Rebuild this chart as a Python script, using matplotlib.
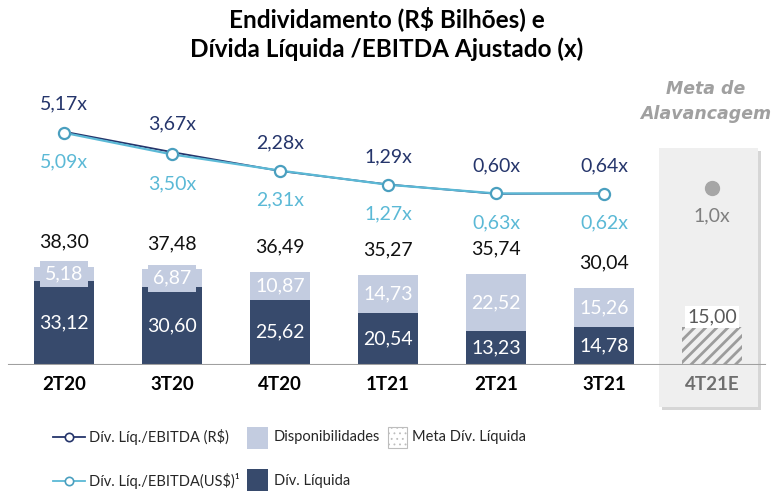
import matplotlib
matplotlib.use("Agg")
import matplotlib.pyplot as plt
from matplotlib.patches import Rectangle
from matplotlib.lines import Line2D

plt.rcParams['font.family'] = ['Lato', 'DejaVu Sans']
plt.rcParams['hatch.linewidth'] = 2.0

# ---- data ----
categories = ["2T20", "3T20", "4T20", "1T21", "2T21", "3T21", "4T21E"]
div_liquida = [33.12, 30.60, 25.62, 20.54, 13.23, 14.78]
disponibilidades = [5.18, 6.87, 10.87, 14.73, 22.52, 15.26]
endividamento = [38.30, 37.48, 36.49, 35.27, 35.74, 30.04]
ratio_brl = [5.17, 3.67, 2.28, 1.29, 0.60, 0.64]
ratio_usd = [5.09, 3.50, 2.31, 1.27, 0.63, 0.62]
meta_div_liquida = 15.00
meta_alavancagem = 1.0

W, H = 774, 494
C_DARK = "#374a6c"
C_LIGHT = "#c3cce0"
C_NAVY = "#25356b"
C_SKY = "#5bb9d6"
C_GRAY = "#a6a6a6"
VFS = 14

fig = plt.figure(figsize=(W / 100, H / 100), dpi=100)

def fx(px):
    return px / W

def fy(py):
    return 1 - py / H

# grey panel for the forecast column (shadow + panel)
fig.patches.append(Rectangle((fx(662), fy(410)), fx(99), 259 / H, transform=fig.transFigure,
                             facecolor="#d6d6d6", edgecolor="none", zorder=-3))
fig.patches.append(Rectangle((fx(659), fy(407)), fx(99), 259 / H, transform=fig.transFigure,
                             facecolor="#efefef", edgecolor="none", zorder=-2))

base_px = 365
ax = fig.add_axes([0, fy(base_px), 1, base_px / H])
ax.patch.set_visible(False)
scale = 2.55  # px per unit
ax.set_ylim(0, base_px / scale)
ax.set_xlim(-64 / 108, (W - 64) / 108)
for s in ax.spines.values():
    s.set_visible(False)
ax.set_yticks([])

x = list(range(len(div_liquida)))
bw = 0.555
ax.bar(x, div_liquida, width=bw, color=C_DARK, zorder=2)
ax.bar(x, disponibilidades, bottom=div_liquida, width=bw, color=C_LIGHT, zorder=2)

for i in x:
    d = div_liquida[i]
    l = disponibilidades[i]
    ax.text(i, d / 2, f"{d:.2f}".replace(".", ","), ha="center", va="center",
            color="white", fontsize=VFS, zorder=4)
    ax.text(i, d + l / 2, f"{l:.2f}".replace(".", ","), ha="center", va="center",
            color="white", fontsize=VFS, zorder=4,
            bbox=dict(boxstyle="square,pad=0.25", facecolor=C_LIGHT, edgecolor="none"))
    ax.annotate(f"{endividamento[i]:.2f}".replace(".", ","), (i, d + l),
                xytext=(0, 12), textcoords="offset points", ha="center", va="bottom",
                color="#111111", fontsize=VFS, zorder=4)

# meta bar (hatched)
ax.bar([6], [meta_div_liquida], width=0.55, facecolor="none", edgecolor="#9c9c9c",
       hatch="///", linewidth=0, zorder=2)
ax.annotate(f"{meta_div_liquida:.2f}".replace(".", ","), (6, meta_div_liquida),
            xytext=(0, 1), textcoords="offset points", ha="center", va="bottom",
            color="#595959", fontsize=VFS, zorder=4,
            bbox=dict(boxstyle="square,pad=0.12", facecolor="white", edgecolor="none"))

# baseline
ax.axhline(0, xmin=fx(9), xmax=fx(765), color="#a0a0a0", lw=1.5, zorder=3)

ax.set_xticks(range(len(categories)))
ax.set_xticklabels(categories, fontsize=13.5, fontweight="bold")
ax.tick_params(axis="x", length=0, pad=8)
ax.get_xticklabels()[-1].set_color("#6e6e6e")

# ratio axis
ax2 = ax.twinx()
ax2.patch.set_visible(False)
rs = 13.6
zero_above = 163
ax2.set_ylim(-zero_above / rs, (base_px - zero_above) / rs)
ax2.set_yticks([])
for s in ax2.spines.values():
    s.set_visible(False)

ax2.plot(x, ratio_usd, color=C_SKY, lw=1.6, zorder=5)
ax2.plot(x, ratio_brl, color=C_NAVY, lw=1.3, zorder=4)
ax2.plot(x, ratio_usd, color=C_SKY, lw=0, marker="o", ms=8, mfc="white",
         mec="#4a9fbf", mew=1.6, zorder=6)
for i in x:
    ax2.annotate(f"{ratio_brl[i]:.2f}x".replace(".", ","), (i, ratio_brl[i]),
                 xytext=(0, 20), textcoords="offset points", ha="center", va="center",
                 color=C_NAVY, fontsize=VFS)
    ax2.annotate(f"{ratio_usd[i]:.2f}x".replace(".", ","), (i, ratio_usd[i]),
                 xytext=(0, -21), textcoords="offset points", ha="center", va="center",
                 color=C_SKY, fontsize=VFS)

ax2.plot([6], [meta_alavancagem], marker="o", ms=10, color=C_GRAY, lw=0)
ax2.annotate(f"{meta_alavancagem:.1f}x".replace(".", ","), (6, meta_alavancagem),
             xytext=(0, -20), textcoords="offset points", ha="center", va="center",
             color="#7f7f7f", fontsize=VFS)

# titles
fig.text(0.5, fy(19), "Endividamento (R$ Bilhões) e", ha="center", va="center",
         fontsize=17.5, fontweight="bold", color="black")
fig.text(0.5, fy(49), "Dívida Líquida /EBITDA Ajustado (x)", ha="center", va="center",
         fontsize=17.5, fontweight="bold", color="black")
fig.text(fx(706), fy(89), "Meta de", ha="center", va="center", fontsize=12.5,
         fontweight="bold", style="italic", color="#a0a0a0", family=["DejaVu Sans"])
fig.text(fx(706), fy(114), "Alavancagem", ha="center", va="center", fontsize=12.5,
         fontweight="bold", style="italic", color="#a0a0a0", family=["DejaVu Sans"])

# legend (manual)
leg_fs = 10.5
rows = [437, 481]
for (y, col, mec, txt) in [(rows[0], C_NAVY, C_NAVY, "Dív. Líq./EBITDA (R$)"),
                           (rows[1], C_SKY, "#4a9fbf", "Dív. Líq./EBITDA(US$)¹")]:
    fig.add_artist(Line2D([fx(53), fx(85)], [fy(y), fy(y)], color=col, lw=1.3,
                          transform=fig.transFigure))
    fig.add_artist(Line2D([fx(69)], [fy(y)], marker="o", ms=6, mfc="white", mec=mec,
                          mew=1.2, transform=fig.transFigure))
    fig.text(fx(89), fy(y), txt, ha="left", va="center", fontsize=leg_fs, color="#262626")

fig.patches.append(Rectangle((fx(247), fy(449)), fx(21), 22 / H, transform=fig.transFigure,
                             facecolor=C_LIGHT, edgecolor="none"))
fig.text(fx(274), fy(rows[0]), "Disponibilidades", ha="left", va="center",
         fontsize=leg_fs, color="#262626")
fig.patches.append(Rectangle((fx(247), fy(491)), fx(21), 22 / H, transform=fig.transFigure,
                             facecolor=C_DARK, edgecolor="none"))
fig.text(fx(274), fy(rows[1]), "Dív. Líquida", ha="left", va="center",
         fontsize=leg_fs, color="#262626")
with plt.rc_context({'hatch.linewidth': 0.6, 'hatch.color': '#8c8c8c'}):
    fig.patches.append(Rectangle((fx(388), fy(448)), fx(19), 21 / H, transform=fig.transFigure,
                                 facecolor="white", edgecolor="#bdbdbd", hatch="...", lw=0.8))
fig.text(fx(412), fy(rows[0]), "Meta Dív. Líquida", ha="left", va="center",
         fontsize=leg_fs, color="#262626")

fig.savefig("out.png", dpi=100)
